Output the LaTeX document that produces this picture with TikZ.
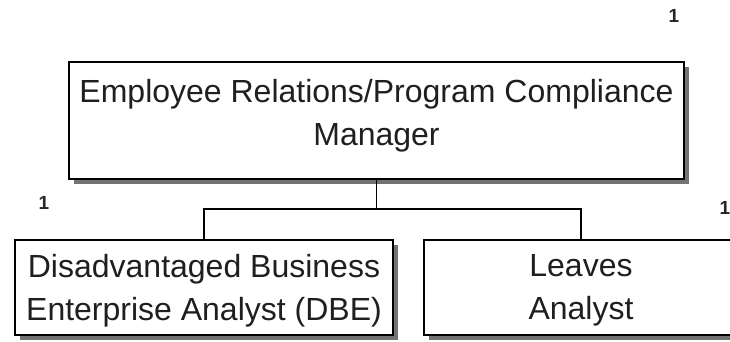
\documentclass[tikz,border=0pt]{standalone}
\usepackage{fontspec}
\setmainfont{Liberation Sans}
\begin{document}
\begin{tikzpicture}[x=1pt,y=-1pt,
  orgbox/.style={draw=black,line width=2pt,fill=white,inner sep=0pt},
  shadowbox/.style={fill=black!55,draw=none,inner sep=0pt},
  boxtext/.style={align=center,inner sep=0pt,text=black!88,font=\fontsize{32}{43}\selectfont},
  conn/.style={draw=black,line width=1.5pt},
  count/.style={font=\fontsize{19}{19}\selectfont\bfseries,inner sep=0pt,text=black!85}]
\useasboundingbox (0,0) rectangle (730,341);
\clip (0,0) rectangle (730,341);
% shadows
\node[shadowbox,minimum width=615pt,minimum height=117pt] at (381.5,125.5) {};
\node[shadowbox,minimum width=378pt,minimum height=95pt] at (209,292.5) {};
\node[shadowbox,minimum width=314pt,minimum height=95pt] at (586,292.5) {};
% boxes
\node[orgbox,minimum width=615pt,minimum height=117pt] (mgr) at (376.5,120.5) {};
\node[orgbox,minimum width=378pt,minimum height=95pt] (dbe) at (204,287.5) {};
\node[orgbox,minimum width=314pt,minimum height=95pt] (lea) at (581,287.5) {};
% texts
\node[boxtext] (mgrT) at (376.5,115.4) {Employee Relations/Program Compliance\\Manager};
\node[boxtext] (dbeT) at (204,290.4) {Disadvantaged Business\\Enterprise Analyst (DBE)};
\node[boxtext] (leaT) at (581,290.4) {Leaves\\Analyst};
% connectors
\coordinate (bus) at (376.5,209);
\draw[conn] (mgr.south) -- (bus);
\draw[conn] (dbe.north) |- (bus) -| (lea.north);
% counts
\node[count] (c1) at (674,16) {1};
\node[count] (c2) at (44,203) {1};
\node[count] (c3) at (725,208) {1};
\end{tikzpicture}
\end{document}
